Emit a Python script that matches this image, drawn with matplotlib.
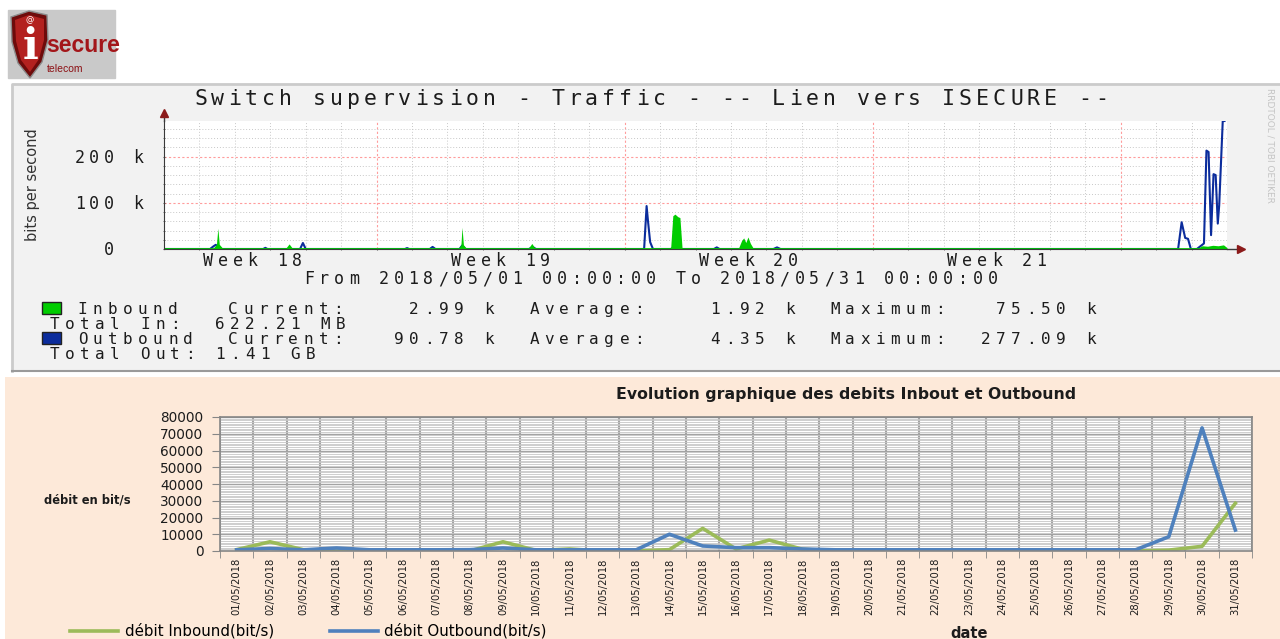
import numpy as np, matplotlib
matplotlib.use("Agg"); import matplotlib.pyplot as plt
from matplotlib import transforms as mtr
from matplotlib.patches import Rectangle, Polygon

W, H = 1280, 639

# rrdtool graph: x = days since 2018/05/01 00:00, y = bit/s
in_days = [0, 1.40, 1.48, 1.52, 1.56, 1.64, 3.45, 3.53, 3.61,
           8.33, 8.38, 8.41, 8.45, 8.52, 10.30, 10.38, 10.46,
           14.30, 14.36, 14.42, 14.50, 14.56, 14.62,
           16.22, 16.30, 16.36, 16.42, 16.48, 16.55, 16.62,
           29.20, 29.30, 29.45, 29.60, 29.75, 29.90, 30.0]
in_bps = [3000, 3000, 10000, 45000, 10000, 3000, 3000, 11000, 3000,
          3000, 9000, 47000, 9000, 3000, 3000, 12000, 3000,
          3000, 72000, 75500, 70000, 68000, 3000,
          3000, 18000, 24000, 14000, 26000, 12000, 3000,
          3000, 7000, 6000, 8000, 7000, 9000, 3000]
out_days = [0, 1.30, 1.40, 1.46, 1.52, 1.62, 2.80, 2.86, 2.92, 3.84, 3.92, 4.00,
            6.80, 6.86, 6.92, 7.50, 7.58, 7.66, 8.34, 8.42, 8.50, 10.30, 10.40, 10.50,
            13.55, 13.62, 13.66, 13.72, 13.80, 14.30, 14.44, 14.58, 15.52, 15.60, 15.68,
            16.30, 16.44, 16.58, 17.20, 17.30, 17.40,
            28.62, 28.72, 28.82, 28.90, 28.98,
            29.15, 29.25, 29.35, 29.42, 29.48, 29.55, 29.62, 29.68, 29.74, 29.78, 29.88, 29.93]
out_bps = [0, 0, 6000, 9000, 6000, 0, 0, 2500, 0, 0, 13000, 0,
           0, 2000, 0, 0, 4500, 0, 0, 8000, 0, 0, 4500, 0,
           0, 93000, 60000, 15000, 0, 0, 5000, 0, 0, 3500, 0,
           0, 4500, 0, 0, 3500, 0,
           0, 58000, 24000, 22000, 0,
           0, 6000, 12000, 213000, 210000, 30000, 162000, 160000, 55000, 95000, 277090, 277090]
weeks = ["Week 18", "Week 19", "Week 20", "Week 21"]
week_mid = [2.5, 9.5, 16.5, 23.5]
mondays = [6, 13, 20, 27]
other_days = [1, 2, 3, 4, 5, 7, 8, 9, 10, 11, 12, 14, 15, 16, 17, 18, 19, 21, 22, 23, 24, 25, 26, 28, 29]
rrd_ticks = [0, 100e3, 200e3]
rrd_minor = [20e3, 40e3, 60e3, 80e3, 120e3, 140e3, 160e3, 180e3, 220e3, 240e3, 260e3]
rrd_labels = ["  0  ", "100 k", "200 k"]
rrd_ymax = 277.09e3
stats_in = ["2.99 k", "1.92 k", "75.50 k"]
stats_out = ["90.78 k", "4.35 k", "277.09 k"]

# excel chart: daily values in bit/s
dates = ["%02d/05/2018" % d for d in range(1, 32)]
inbound = [800, 5500, 800, 0, 0, 0, 0, 0, 5500, 300, 1200, 0, 0, 800, 13500, 1200,
           6500, 1000, 0, 0, 0, 0, 0, 0, 0, 0, 0, 0, 500, 2800, 28500]
outbound = [700, 1500, 700, 1800, 700, 700, 700, 800, 1800, 700, 700, 700, 700, 10000, 3000, 2000,
            2000, 1200, 700, 700, 700, 700, 700, 700, 700, 700, 700, 700, 8500, 73500, 12500]

INK = "#1c1c1c"; GREEN = "#00cc00"; NAVY = "#0b2c9c"
XL_GREEN = "#9bbb59"; XL_BLUE = "#4f81bd"; PEACH = "#fde9d9"; XL_GRID = "#a3a3a3"

fig = plt.figure(figsize=(W/100, H/100), dpi=100)
def pix(x0, y0, x1, y1): return [x0/W, 1-y1/H, (x1-x0)/W, (y1-y0)/H]

bg = fig.add_axes([0, 0, 1, 1]); bg.set_xlim(0, W); bg.set_ylim(H, 0); bg.axis("off")

def spaced(ax, x, y, s, pitch, size, tr=None, ha="left", dx=0, dy=0, color=INK):
    # rrdtool draws its mono font with wide letter spacing; y is the middle of the capitals
    tr = ax.transData if tr is None else tr
    x0 = dx - {"left": 0, "center": .5, "right": 1}[ha]*len(s)*pitch
    base = dy - 0.5*0.729*size*100/72
    for i, ch in enumerate(s):
        if ch != " ":
            ax.text(x, y, ch, transform=mtr.offset_copy(tr, x=x0+(i+.5)*pitch, y=base, units="dots"),
                    ha="center", va="baseline", fontsize=size, family="DejaVu Sans Mono", color=color)

# logo
bg.add_patch(Rectangle((8, 10), 107, 68, color="#c9c9c9"))
bg.add_patch(Polygon([(11, 17), (29, 11), (47, 15), (48, 40), (42, 62), (30, 78), (18, 63), (12, 42)],
                     fc="#6e0b0b", ec="#8a8a8a", lw=1))
bg.add_patch(Polygon([(15, 20), (29, 15), (44, 19), (44, 40), (39, 59), (30, 72), (21, 60), (16, 41)], fc="#b3211f"))
bg.text(30, 47, "i", fontsize=30, weight="bold", family="DejaVu Serif", color="white", ha="center", va="center")
bg.text(30, 20, "@", fontsize=6, color="white", ha="center", va="center")
bg.text(46, 45, "secure", fontsize=16.5, weight="bold", family="Liberation Sans",
        color="#a3161a", ha="left", va="center")
bg.text(47, 69, "telecom", fontsize=7.5, family="Liberation Sans", color="#8c1014", ha="left", va="center")

# panels
bg.add_patch(Rectangle((12, 84), W-12, 287, fc="#f2f2f2", ec="none"))
bg.plot([12, 12, W], [371, 84, 84], color="#cbcbcb", lw=2)
bg.plot([12, W], [371, 371], color="#9a9a9a", lw=1.5)
bg.add_patch(Rectangle((5, 377), W-5, H-377, fc=PEACH, ec="none"))

# ---- rrdtool traffic graph
a = fig.add_axes(pix(164, 121, 1227, 249), facecolor="white")
a.set_xlim(0, 30); a.set_ylim(0, rrd_ymax)
a.plot(out_days, out_bps, color=NAVY, lw=1.5, zorder=2)
a.fill_between(in_days, in_bps, color=GREEN, lw=0, zorder=3)
a.set_xticks(mondays); a.set_xticks(other_days, minor=True)
a.set_yticks(rrd_ticks); a.set_yticks(rrd_minor, minor=True)
a.tick_params(which="both", labelbottom=False, labelleft=False, length=2, color="#555555", direction="inout")
a.grid(which="major", color="#ff9c9c", ls=(0, (2, 2)), lw=0.8)
a.grid(which="minor", color="#c8c8c8", ls=(0, (1, 2)), lw=0.7)
for s in ["top", "right"]: a.spines[s].set_visible(False)
for s in ["left", "bottom"]: a.spines[s].set_color("#3a3a3a"); a.spines[s].set_zorder(5)
a.plot([0, 0], [1, 1.055], transform=a.transAxes, clip_on=False, color="#3a3a3a", lw=1)
a.plot([0], [1.06], marker="^", ms=6, color="#8b1a1a", transform=a.transAxes, clip_on=False)
a.plot([1, 1.011], [0, 0], transform=a.transAxes, clip_on=False, color="#3a3a3a", lw=1)
a.plot([1.013], [0], marker=">", ms=6, color="#8b1a1a", transform=a.transAxes, clip_on=False)

spaced(bg, 192, 97, "Switch supervision - Traffic - -- Lien vers ISECURE --", 17.0, 15.5)
for w, m in zip(weeks, week_mid):
    spaced(a, m, 0, w, 14.8, 12, tr=a.get_xaxis_transform(), ha="center", dy=-11)
for v, l in zip(rrd_ticks, rrd_labels):
    spaced(a, 0, v, l, 14.5, 12, tr=a.get_yaxis_transform(), ha="right", dx=-19)
spaced(bg, 302, 278, "From 2018/05/01 00:00:00 To 2018/05/31 00:00:00", 14.85, 12)
bg.text(33, 185, "bits per second", rotation=90, ha="center", va="center", fontsize=10.5, color="#333333")
bg.text(1270, 145, "RRDTOOL / TOBI OETIKER", rotation=-90, ha="center", va="center", fontsize=6.5, color="#c4c4c4")

P = 15.05
for y, name, st, col in [(308, "Inbound", stats_in, GREEN), (338, "Outbound", stats_out, NAVY)]:
    bg.add_patch(Rectangle((42, y-6), 19, 12, fc=col, ec="#222222", lw=1))
    row = f"{name:<10}{'Current:':<8}{st[0]:>10}  {'Average:':<8}{st[1]:>10}  {'Maximum:':<8}{st[2]:>10}"
    spaced(bg, 75, y, row, P, 11.5)
spaced(bg, 47, 323, "Total In:  622.21 MB", P, 11.5)
spaced(bg, 47, 353, "Total Out: 1.41 GB", P, 11.5)

# ---- excel daily chart
b = fig.add_axes(pix(220, 417, 1252, 551), facecolor="white")
x = np.arange(len(dates))
l_in, = b.plot(x, inbound, color=XL_GREEN, lw=2.6, label="débit Inbound(bit/s)")
l_out, = b.plot(x, outbound, color=XL_BLUE, lw=2.6, label="débit Outbound(bit/s)")
b.set_xlim(-0.5, len(dates)-0.5); b.set_ylim(0, 80000)
b.set_xticks(x); b.set_xticklabels(dates, rotation=90, fontsize=7.2, color=INK)
b.set_xticks(np.arange(-0.5, len(dates)), minor=True)
b.set_yticks(range(0, 80001, 10000)); b.set_yticks(range(0, 80000, 1000), minor=True)
b.tick_params(axis="x", which="major", length=0, pad=5)
b.tick_params(axis="x", which="minor", length=5, color="#868686")
b.tick_params(axis="y", which="major", length=6, color="#868686", labelsize=9.8, pad=6, labelcolor=INK)
b.tick_params(axis="y", which="minor", length=0)
b.grid(axis="y", which="minor", color="#c6c6c6", lw=0.6)
b.grid(axis="y", which="major", color=XL_GRID, lw=1.0)
b.grid(axis="x", which="minor", color=XL_GRID, lw=1.5)
b.set_axisbelow(True)
for s in b.spines.values(): s.set_color("#868686"); s.set_linewidth(1.2)

bg.text(846, 395, "Evolution graphique des debits Inbout et Outbound", ha="center", va="center",
        fontsize=11.3, weight="bold", color=INK)
bg.text(44, 500, "débit en bit/s", ha="left", va="center", fontsize=8.3, weight="bold", color=INK)
bg.text(969, 633, "date", ha="center", va="center", fontsize=10.5, weight="bold", color=INK)
fig.legend(handles=[l_in, l_out], loc="center left", bbox_to_anchor=(70/W, 1-631/H), ncol=2, frameon=False,
           fontsize=10.8, handlelength=3.2, handletextpad=0.45, columnspacing=3.7, borderpad=0, borderaxespad=0)

fig.savefig("out.png", dpi=100)
